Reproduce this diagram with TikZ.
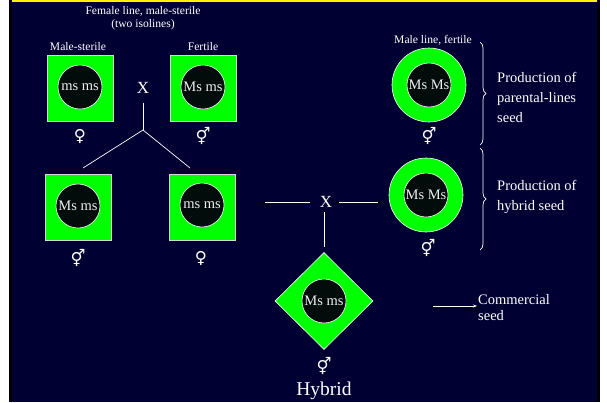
\documentclass[tikz,border=0pt]{standalone}
\usepackage{fontspec}
\setmainfont{Liberation Serif}
\newfontfamily\symfont{DejaVu Sans}
\usetikzlibrary{shapes.geometric,decorations.pathreplacing,arrows.meta}
\definecolor{navy}{RGB}{0,0,51}
\definecolor{leaf}{RGB}{0,255,0}
\definecolor{core}{RGB}{2,12,10}
\definecolor{rim}{RGB}{215,215,215}
\begin{document}
\begin{tikzpicture}[x=1pt,y=-1pt,
  plant/.style={rectangle, draw=rim, fill=leaf, minimum size=66pt, inner sep=0pt, line width=0.6pt},
  nucleus/.style={circle, draw=white, fill=core, minimum size=44pt, inner sep=0pt, line width=0.6pt,
    text=white!88!gray, font=\fontsize{14.5}{16}\selectfont},
  ring/.style={circle, draw=white, fill=leaf, minimum size=74pt, inner sep=0pt, line width=0.6pt},
  hybridbox/.style={diamond, draw=white, fill=leaf, minimum width=98pt, minimum height=97pt, inner sep=0pt, line width=0.6pt},
  sex/.style={text=white, font=\symfont\fontsize{16.5}{16.5}\selectfont, inner sep=0pt},
  small/.style={text=white, font=\fontsize{11.6}{12.5}\selectfont, inner sep=0pt, align=center},
  label/.style={text=white, font=\fontsize{14.5}{20}\selectfont, inner sep=0pt, align=left},
  link/.style={draw=white, line width=0.7pt},
  crosssign/.style={text=white, font=\fontsize{17}{17}\selectfont, inner sep=0pt},
  bracket/.style={draw=white, line width=0.7pt, decorate, decoration={brace, amplitude=6pt}},
]
% page and slide frame
\useasboundingbox (0,0) rectangle (607,402);
\fill[white] (0,0) rectangle (607,402);
\fill[black] (9,0) rectangle (600,402);
\fill[navy] (12,0) rectangle (597,402);
\fill[yellow] (12,0) rectangle (597,1.6);

% female line, two isolines
\node[small] (femhead) at (143,18) {Female line, male-sterile\\(two isolines)};
\node[small] (mslab) at (78,47) {Male-sterile};
\node[small] (fertlab) at (203,47) {Fertile};

\node[plant] (p1) at (80,88) {};
\node[nucleus] (n1) at (80,87) {ms ms};
\node[plant] (p2) at (203,88) {};
\node[nucleus] (n2) at (203,87) {Ms ms};
\node[sex] (s1) at (80,136) {♀};
\node[sex] (s2) at (203,136) {⚥};
\node[crosssign] (x1) at (143,88) {X};

\coordinate (j1) at (143,130);
\coordinate (l1) at (83,168);
\coordinate (r1) at (190,168);
\draw[link] (143,103) -- (j1);
\draw[link] (l1) -- (j1) -- (r1);

\node[plant] (p3) at (78,207) {};
\node[nucleus] (n3) at (78,206) {Ms ms};
\node[plant] (p4) at (202,207) {};
\node[nucleus] (n4) at (202,205) {ms ms};
\node[sex] (s3) at (78,258) {⚥};
\node[sex] (s4) at (201,258) {♀};

% male line
\node[small] (malelab) at (433,40) {Male line, fertile};
\node[ring] (r1ring) at (429,85) {};
\node[nucleus] (n5) at (429,85) {Ms Ms};
\node[sex] (s5) at (429,136) {⚥};

\node[ring] (r2ring) at (426,195) {};
\node[nucleus] (n6) at (426,195) {Ms Ms};
\node[sex] (s6) at (428,248) {⚥};

\draw[bracket] (480,42) -- (480,145);
\draw[bracket] (480,148) -- (480,250);
\node[label, anchor=west] (prod1) at (497,97) {Production of\\parental-lines\\seed};
\node[label, anchor=west] (prod2) at (497,197) {Production of\\hybrid seed};

% hybrid cross
\node[crosssign] (x2) at (326,202) {X};
\coordinate (hl) at (265,202);
\coordinate (hr) at (378,202);
\draw[link] (hl) -- ([xshift=-10pt]x2.west);
\draw[link] ([xshift=7pt]x2.east) -- (hr);

\node[hybridbox] (hyb) at (324,301) {};
\node[nucleus] (n7) at (324,301) {Ms ms};
\draw[link] (324,212) -- (324,247);
\node[sex] (s7) at (324,366) {⚥};
\node[text=white, font=\fontsize{19.5}{20}\selectfont, inner sep=0pt] (hyblab) at (324,391) {Hybrid};

% commercial seed
\coordinate (a0) at (433,306);
\node[small, font=\fontsize{14.5}{16}\selectfont, align=left, anchor=west] (comm) at (478,308) {Commercial\\seed};
\draw[link, line width=0.6pt, -{Stealth[length=4pt,width=3pt]}] (a0) -- (477,306);
\end{tikzpicture}
\end{document}
